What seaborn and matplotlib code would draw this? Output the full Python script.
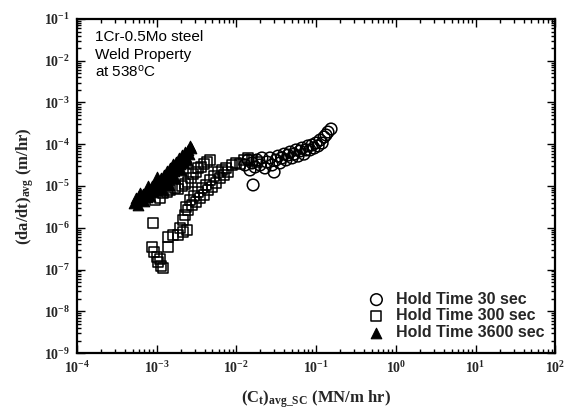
import matplotlib
matplotlib.use("Agg")
import matplotlib.pyplot as plt
import seaborn as sns
import pandas as pd
from matplotlib.ticker import LogLocator, NullFormatter

# ---- data ----
ct_30 = [1.28e-2, 1.40e-2, 1.48e-2, 1.57e-2, 1.62e-2, 1.71e-2, 1.81e-2, 1.98e-2, 2.09e-2, 2.28e-2,
         2.42e-2, 2.64e-2, 2.80e-2, 2.97e-2, 3.14e-2, 3.33e-2, 3.52e-2, 3.73e-2, 3.96e-2, 4.19e-2,
         4.44e-2, 4.71e-2, 4.99e-2, 5.28e-2, 5.60e-2, 5.93e-2, 6.28e-2, 6.65e-2, 7.05e-2, 7.46e-2,
         7.91e-2, 8.37e-2, 8.89e-2, 9.42e-2, 9.98e-2, 0.106, 0.112, 0.119, 0.126, 0.133, 0.141, 0.154]
dadt_30 = [3.19e-5, 4.2e-5, 2.42e-5, 3.56e-5, 1.06e-5, 2.85e-5, 4.2e-5, 3.19e-5, 4.7e-5, 2.70e-5,
           3.76e-5, 4.7e-5, 3.19e-5, 2.16e-5, 4.2e-5, 5.2e-5, 3.56e-5, 4.7e-5, 5.8e-5, 4.2e-5,
           5.5e-5, 6.5e-5, 4.7e-5, 5.8e-5, 7.3e-5, 5.2e-5, 6.9e-5, 8.1e-5, 5.8e-5, 7.3e-5,
           9.1e-5, 7.3e-5, 9.6e-5, 8.1e-5, 1.07e-4, 9.1e-5, 1.26e-4, 1.07e-4, 1.49e-4, 1.67e-4,
           1.96e-4, 2.32e-4]

ct_300 = [9.5e-4, 1.10e-3, 1.20e-3, 1.35e-3, 1.47e-3, 1.70e-3, 1.85e-3, 2.07e-3, 2.26e-3, 2.47e-3,
          2.69e-3, 2.85e-3, 3.11e-3, 3.30e-3, 3.60e-3, 3.92e-3, 4.28e-3, 4.67e-3,
          9.0e-4, 8.73e-4, 9.25e-4, 1.01e-3, 1.04e-3, 1.13e-3, 1.20e-3, 1.10e-3,
          1.39e-3, 1.39e-3, 1.60e-3, 1.85e-3, 2.14e-3, 2.40e-3,
          1.96e-3, 2.14e-3, 2.26e-3, 2.33e-3, 2.47e-3, 2.62e-3, 2.77e-3, 2.94e-3, 3.11e-3, 3.30e-3,
          3.49e-3, 3.70e-3, 3.92e-3, 4.15e-3, 4.40e-3, 4.67e-3, 4.94e-3, 5.24e-3, 5.55e-3, 5.88e-3,
          6.22e-3, 6.59e-3, 6.98e-3, 7.41e-3, 7.85e-3, 8.81e-3, 9.89e-3, 1.11e-2, 1.25e-2, 1.40e-2,
          1.57e-2, 1.81e-2]
dadt_300 = [4.6e-6, 5.2e-6, 6.8e-6, 7.2e-6, 8.0e-6, 8.95e-6, 8.5e-6, 1.0e-5, 1.12e-5, 1.25e-5,
            1.56e-5, 1.94e-5, 2.16e-5, 2.70e-5, 2.85e-5, 3.37e-5, 3.76e-5, 4.2e-5,
            1.30e-6, 3.46e-7, 2.62e-7, 1.99e-7, 1.51e-7, 1.21e-7, 1.1e-7, 1.78e-7,
            3.46e-7, 6.0e-7, 6.7e-7, 6.7e-7, 7.9e-7, 8.8e-7,
            9.9e-7, 1.53e-6, 2.02e-6, 3.14e-6, 2.66e-6, 4.6e-6, 3.5e-6, 5.75e-6, 4.1e-6, 7.2e-6,
            5.2e-6, 8.95e-6, 6.1e-6, 1.06e-5, 8.0e-6, 1.39e-5, 9.5e-6, 1.74e-5, 1.18e-5, 2.16e-5,
            1.56e-5, 2.42e-5, 1.83e-5, 2.70e-5, 2.16e-5, 3.19e-5, 3.56e-5, 3.37e-5, 4.2e-5, 4.7e-5,
            4.2e-5, 3.76e-5]

ct_3600 = [5.19e-4, 5.5e-4, 5.82e-4, 6.0e-4, 6.35e-4, 6.73e-4, 6.93e-4, 7.34e-4, 7.55e-4, 8.0e-4,
           8.24e-4, 8.73e-4, 8.99e-4, 9.52e-4, 9.80e-4, 1.04e-3, 1.07e-3, 1.13e-3, 1.16e-3, 1.24e-3,
           1.27e-3, 1.35e-3, 1.39e-3, 1.47e-3, 1.51e-3, 1.60e-3, 1.65e-3, 1.75e-3, 1.80e-3, 1.91e-3,
           1.96e-3, 2.08e-3, 2.14e-3, 2.26e-3, 2.33e-3, 2.47e-3, 2.54e-3, 2.69e-3,
           6.17e-4, 7.78e-4, 1.01e-3, 1.20e-3, 1.43e-3, 1.56e-3, 1.70e-3, 2.02e-3, 2.20e-3, 2.40e-3,
           2.62e-3]
dadt_3600 = [3.9e-6, 5.2e-6, 3.5e-6, 5.75e-6, 4.6e-6, 6.4e-6, 4.4e-6, 7.2e-6, 5.45e-6, 8.5e-6,
             5.75e-6, 1.0e-5, 7.2e-6, 1.18e-5, 8.0e-6, 1.32e-5, 9.5e-6, 1.56e-5, 1.12e-5, 1.83e-5,
             1.32e-5, 2.29e-5, 1.56e-5, 2.70e-5, 1.83e-5, 3.37e-5, 2.29e-5, 3.76e-5, 2.70e-5, 4.7e-5,
             3.37e-5, 5.5e-5, 4.2e-5, 6.5e-5, 4.95e-5, 7.3e-5, 5.8e-5, 8.1e-5,
             6.8e-6, 1.0e-5, 1.64e-5, 8.0e-6, 1.06e-5, 2.85e-5, 1.56e-5, 2.42e-5, 3.56e-5, 4.2e-5,
             9.1e-5]

series_labels = ["Hold Time 30 sec", "Hold Time 300 sec", "Hold Time 3600 sec"]
x_ticks = [1e-4, 1e-3, 1e-2, 1e-1, 1e0, 1e1, 1e2]
x_tick_labels = [r"$\mathbf{10^{-4}}$", r"$\mathbf{10^{-3}}$", r"$\mathbf{10^{-2}}$", r"$\mathbf{10^{-1}}$",
                 r"$\mathbf{10^{0}}$", r"$\mathbf{10^{1}}$", r"$\mathbf{10^{2}}$"]
y_ticks = [1e-9, 1e-8, 1e-7, 1e-6, 1e-5, 1e-4, 1e-3, 1e-2, 1e-1]
y_tick_labels = [r"$\mathbf{10^{-9}}$", r"$\mathbf{10^{-8}}$", r"$\mathbf{10^{-7}}$", r"$\mathbf{10^{-6}}$",
                 r"$\mathbf{10^{-5}}$", r"$\mathbf{10^{-4}}$", r"$\mathbf{10^{-3}}$", r"$\mathbf{10^{-2}}$",
                 r"$\mathbf{10^{-1}}$"]

df30 = pd.DataFrame({"ct": ct_30, "dadt": dadt_30})
df300 = pd.DataFrame({"ct": ct_300, "dadt": dadt_300})
df3600 = pd.DataFrame({"ct": ct_3600, "dadt": dadt_3600})

# ---- style ----
sns.set_style("ticks")
plt.rcParams["font.family"] = ["Liberation Sans", "DejaVu Sans"]
plt.rcParams["mathtext.fontset"] = "custom"
plt.rcParams["mathtext.rm"] = "Liberation Serif:bold"
plt.rcParams["mathtext.bf"] = "Liberation Serif:bold"
plt.rcParams["mathtext.it"] = "Liberation Serif:bold:italic"
plt.rcParams["mathtext.sf"] = "Liberation Sans"

fig = plt.figure(figsize=(5.66, 4.12), dpi=100)
ax = fig.add_axes([0.136, 0.143, 0.845, 0.811])

sns.scatterplot(data=df30, x="ct", y="dadt", ax=ax, marker="o", s=70,
                facecolor="none", edgecolor="black", linewidth=1.1, label=series_labels[0])
sns.scatterplot(data=df300, x="ct", y="dadt", ax=ax, marker="s", s=52,
                facecolor="none", edgecolor="black", linewidth=1.1, label=series_labels[1])
sns.scatterplot(data=df3600, x="ct", y="dadt", ax=ax, marker="^", s=58,
                color="black", edgecolor="black", linewidth=0.8, label=series_labels[2])

ax.set_xscale("log")
ax.set_yscale("log")
ax.set_xlim(1e-4, 1e2)
ax.set_ylim(1e-9, 1e-1)
ax.set_xticks(x_ticks)
ax.set_xticklabels(x_tick_labels, fontsize=10)
ax.set_yticks(y_ticks)
ax.set_yticklabels(y_tick_labels, fontsize=10)
ax.xaxis.set_minor_locator(LogLocator(base=10, subs=range(2, 10), numticks=20))
ax.yaxis.set_minor_locator(LogLocator(base=10, subs=range(2, 10), numticks=20))
ax.xaxis.set_minor_formatter(NullFormatter())
ax.yaxis.set_minor_formatter(NullFormatter())
ax.tick_params(which="both", direction="in", top=True, right=True, color="black", width=1.0)
ax.tick_params(which="major", length=6, pad=5)
ax.tick_params(which="minor", length=3)
for sp in ax.spines.values():
    sp.set_linewidth(1.6)
    sp.set_color("black")

ax.set_xlabel(r"$\mathbf{(C_t)_{avg\_SC}\ (MN/m\ hr)}$", fontsize=12, labelpad=9)
ax.set_ylabel(r"$\mathbf{(da/dt)_{avg}\ (m/hr)}$", fontsize=12, labelpad=6)

ax.text(0.038, 0.966, "1Cr-0.5Mo steel\nWeld Property\nat 538$^{\\mathsf{o}}$C", transform=ax.transAxes,
        ha="left", va="top", fontsize=11, linespacing=1.3, color="black")

leg = ax.legend(loc="lower right", bbox_to_anchor=(0.99, 0.02), frameon=False,
                prop={"family": "Liberation Sans", "weight": "bold", "size": 11.5},
                handletextpad=0.6, labelspacing=0.1, borderaxespad=0.0, handlelength=1.2)

fig.savefig("out.png", dpi=100)
